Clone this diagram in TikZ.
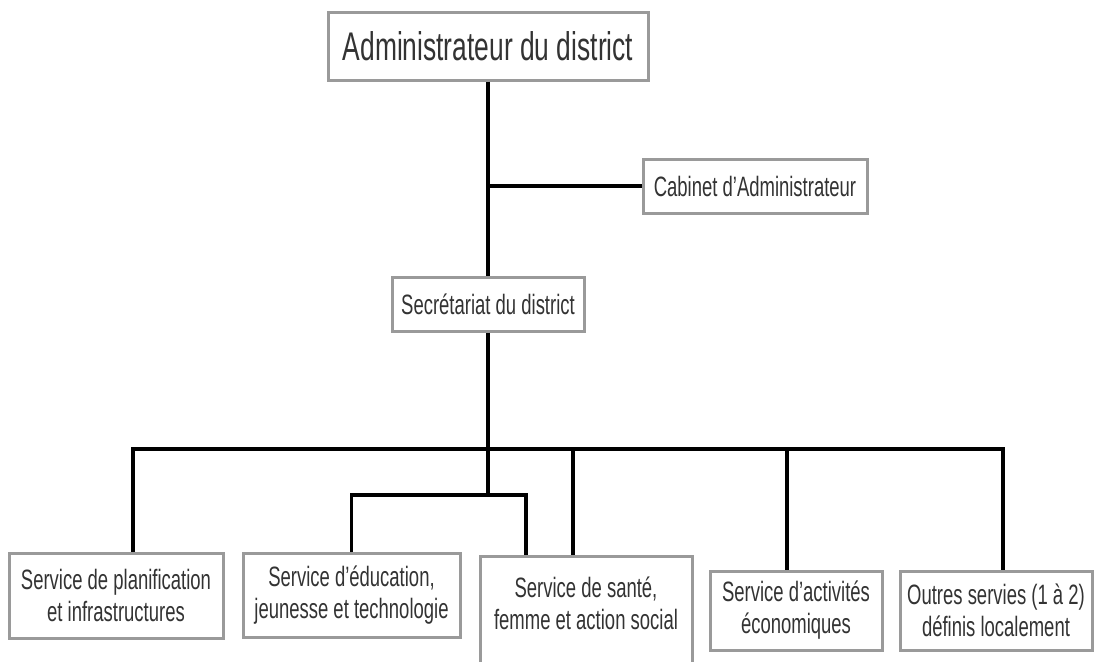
\documentclass[tikz,border=0pt]{standalone}
\usepackage{fontspec}
\setmainfont[FakeStretch=0.66]{Liberation Sans}
\usepackage{tikz}
\definecolor{boxgray}{HTML}{9A9A9A}
\definecolor{txt}{HTML}{333333}
\tikzset{
  unit/.style={draw=boxgray, line width=3pt, fill=white, text=txt, align=center, inner sep=0pt, font=\fontsize{28}{32}\selectfont},
  head/.style={unit, font=\fontsize{40}{44}\selectfont},
  unittext/.style={text=txt, align=center, inner sep=0pt, font=\fontsize{28}{32}\selectfont},
  link/.style={draw=black, line width=3.5pt},
}

\begin{document}
\begin{tikzpicture}[x=1pt, y=-1pt]
  \useasboundingbox (0,0) rectangle (1094,661);
  % top of the chart
  \node[head, minimum width=320pt, minimum height=67pt] (adm) at (488,46.5) {Administrateur du district};
  \node[unit, minimum width=224pt, minimum height=54pt] (cab) at (755,186) {Cabinet d’Administrateur};
  \node[unit, minimum width=192pt, minimum height=54pt] (sec) at (488,304) {Secrétariat du district};
  % services
  \node[unit, minimum width=214pt, minimum height=85pt] (b1) at (116,595.5) {Service de planification\\et infrastructures};
  \node[unit, minimum width=217pt, minimum height=84pt] (b2) at (351.5,595) {Service d’éducation,\\jeunesse et technologie};
  \node[unit, anchor=north, minimum width=212pt, minimum height=130pt] (b3) at (586,555) {};
  \node[unittext] (b3t) at (586,603) {Service de santé,\\femme et action social};
  \node[unit, minimum width=172pt, minimum height=79pt] (b4) at (796,610.5) {Service d’activités\\économiques};
  \node[unit, minimum width=192pt, minimum height=79pt] (b5) at (996,610.5) {Outres servies (1 à 2)\\définis localement};
  % connectors
  \coordinate (sub) at (488,495);
  \coordinate (d1) at (133,449);
  \coordinate (d3) at (573,449);
  \coordinate (d4) at (787,449);
  \coordinate (d5) at (1003,449);
  \coordinate (s3) at (526,495);
  \draw[link] (adm) -- (sec);
  \draw[link] (cab) -- (cab -| adm);
  \draw[link] (sec) -- (sub);
  \draw[link] (b1.north -| d1) -- (d1) -- (d5) -- (b5.north -| d5);
  \draw[link] (d3) -- (b3.north -| d3);
  \draw[link] (d4) -- (b4.north -| d4);
  \draw[link] (b2.north) |- (sub) -| (b3.north -| s3);
\end{tikzpicture}
\end{document}
